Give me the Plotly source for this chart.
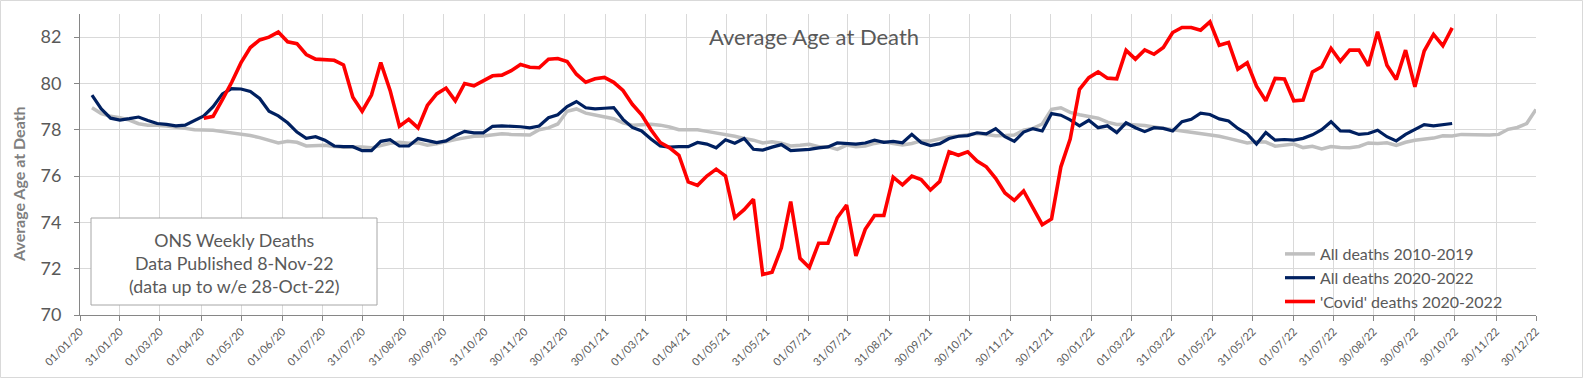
import pandas as pd
import plotly.graph_objects as go

# ---------------- data (weekly, week ending Friday) ----------------
gray_start = "2020-01-10"   # All deaths 2010-2019 average (repeated per year)
gray_vals = [
    # 2020
    78.95, 78.70, 78.58, 78.52, 78.42, 78.26, 78.20, 78.20, 78.16, 78.12, 78.06, 78.00, 78.00,
    77.98, 77.92, 77.87, 77.80, 77.75, 77.66, 77.55, 77.43, 77.50, 77.46, 77.30, 77.30, 77.33,
    77.28, 77.25, 77.26, 77.26, 77.22, 77.32, 77.42, 77.46, 77.42, 77.44, 77.33, 77.40, 77.50,
    77.58, 77.65, 77.72, 77.73, 77.77, 77.83, 77.80, 77.77, 77.77, 78.00, 78.08, 78.25, 78.80,
    # 2021
    78.90, 78.72, 78.64, 78.57, 78.48, 78.30, 78.20, 78.22, 78.24, 78.20, 78.12, 78.00, 78.00,
    78.00, 77.93, 77.86, 77.80, 77.72, 77.62, 77.55, 77.43, 77.48, 77.42, 77.30, 77.33, 77.37,
    77.27, 77.27, 77.15, 77.34, 77.27, 77.30, 77.41, 77.48, 77.41, 77.34, 77.41, 77.52, 77.52,
    77.60, 77.70, 77.73, 77.77, 77.84, 77.80, 77.74, 77.75, 77.77, 77.98, 78.06, 78.25, 78.88,
    # 2022
    78.95, 78.75, 78.65, 78.57, 78.50, 78.33, 78.23, 78.24, 78.22, 78.18, 78.12, 78.06, 78.00,
    77.97, 77.89, 77.83, 77.78, 77.72, 77.63, 77.53, 77.43, 77.48, 77.47, 77.29, 77.34, 77.38,
    77.23, 77.29, 77.17, 77.28, 77.23, 77.22, 77.28, 77.43, 77.41, 77.44, 77.32, 77.46, 77.55,
    77.58, 77.64, 77.74, 77.73, 77.80, 77.78, 77.77, 77.77, 77.80, 78.02, 78.10, 78.27, 78.88,
]

navy_start = "2020-01-10"   # All deaths 2020-2022
navy_vals = [
    79.50, 78.90, 78.50, 78.42, 78.48, 78.55, 78.40, 78.27, 78.23, 78.17, 78.20, 78.40,
    78.60, 79.00, 79.55, 79.78, 79.76, 79.65, 79.35, 78.80, 78.60, 78.30, 77.90, 77.63, 77.70,
    77.55, 77.30, 77.27, 77.27, 77.10, 77.10, 77.50, 77.57, 77.30, 77.30, 77.62, 77.52, 77.45,
    77.52, 77.75, 77.93, 77.87, 77.87, 78.15, 78.17, 78.16, 78.13, 78.08, 78.16, 78.52, 78.65, 79.00,
    79.22, 78.95, 78.90, 78.93, 78.96, 78.45, 78.10, 77.95, 77.60, 77.30, 77.25, 77.27, 77.27,
    77.45, 77.38, 77.22, 77.57, 77.42, 77.62, 77.16, 77.12, 77.25, 77.36, 77.10, 77.12, 77.15,
    77.22, 77.26, 77.43, 77.41, 77.38, 77.43, 77.55, 77.46, 77.50, 77.44, 77.80, 77.45, 77.32,
    77.40, 77.62, 77.72, 77.75, 77.87, 77.82, 78.05, 77.70, 77.50, 77.90, 78.05, 77.95, 78.70,
    78.63, 78.43, 78.17, 78.41, 78.09, 78.17, 77.88, 78.30, 78.09, 77.92, 78.09, 78.06, 77.95,
    78.35, 78.45, 78.72, 78.66, 78.47, 78.38, 78.06, 77.82, 77.38, 77.88, 77.55, 77.58, 77.55,
    77.63, 77.78, 78.00, 78.35, 77.95, 77.94, 77.80, 77.84, 77.98, 77.70, 77.52, 77.80, 78.00,
    78.22, 78.17, 78.23, 78.27,
]

red_start = "2020-04-03"    # 'Covid' deaths 2020-2022
red_vals = [
    78.50, 78.58, 79.30, 80.05, 80.90, 81.55, 81.88, 82.00, 82.22, 81.80, 81.72, 81.25, 81.05,
    81.02, 81.00, 80.80, 79.40, 78.80, 79.50, 80.90, 79.70, 78.15, 78.45, 78.08, 79.05, 79.55,
    79.80, 79.25, 80.00, 79.90, 80.12, 80.33, 80.36, 80.55, 80.82, 80.70, 80.68, 81.05, 81.08, 80.95,
    80.40, 80.05, 80.20, 80.26, 80.05, 79.70, 79.10, 78.65, 78.00, 77.45, 77.22, 76.90, 75.75,
    75.60, 76.00, 76.30, 76.00, 74.20, 74.55, 75.00, 71.75, 71.85, 72.90, 74.90, 72.45, 72.05,
    73.10, 73.10, 74.20, 74.75, 72.55, 73.70, 74.30, 74.30, 75.95, 75.62, 76.00, 75.85, 75.40,
    75.77, 77.05, 76.90, 77.05, 76.65, 76.40, 75.90, 75.27, 74.95, 75.36, 74.63, 73.90, 74.15,
    76.40, 77.60, 79.75, 80.25, 80.50, 80.23, 80.20, 81.43, 81.05, 81.45, 81.26, 81.55, 82.20,
    82.42, 82.42, 82.30, 82.66, 81.65, 81.77, 80.62, 80.89, 79.88, 79.25, 80.22, 80.19, 79.25,
    79.28, 80.50, 80.72, 81.51, 80.96, 81.44, 81.44, 80.76, 82.23, 80.79, 80.17, 81.44, 79.86,
    81.40, 82.12, 81.63, 82.40,
]

series_names = ["All deaths 2010-2019", "All deaths 2020-2022", "'Covid' deaths 2020-2022"]

tick_labels = [
    "01/01/20", "31/01/20", "01/03/20", "01/04/20", "01/05/20", "01/06/20", "01/07/20",
    "31/07/20", "31/08/20", "30/09/20", "31/10/20", "30/11/20", "30/12/20", "30/01/21",
    "01/03/21", "01/04/21", "01/05/21", "31/05/21", "01/07/21", "31/07/21", "31/08/21",
    "30/09/21", "30/10/21", "30/11/21", "30/12/21", "30/01/22", "01/03/22", "31/03/22",
    "01/05/22", "31/05/22", "01/07/22", "31/07/22", "30/08/22", "30/09/22", "30/10/22",
    "30/11/22", "30/12/22",
]
y_ticks = [70, 72, 74, 76, 78, 80, 82]

title_text = "Average Age at Death"
y_title = "Average Age at Death"
note_lines = ["ONS Weekly Deaths", "Data Published 8-Nov-22", "(data up to w/e 28-Oct-22)"]

# ---------------- figure ----------------
W, H = 1583, 378
ML, MR, MT, MB = 80, 47, 14, 63
PW, PH = W - ML - MR, H - MT - MB
FONT = "Lato"
TXT = "#595959"

def weekly(start, vals):
    return pd.date_range(start, periods=len(vals), freq="7D")

def px_x(x):
    return (x - ML) / PW

def px_y(y):
    return (H - MB - y) / PH

tick_dates = pd.to_datetime(tick_labels, format="%d/%m/%y")

fig = go.Figure()
fig.add_trace(go.Scatter(x=weekly(gray_start, gray_vals), y=gray_vals, mode="lines",
                         name=series_names[0], legendgroup="a",
                         line=dict(color="#bfbfbf", width=3.5)))
fig.add_trace(go.Scatter(x=weekly(navy_start, navy_vals), y=navy_vals, mode="lines",
                         name=series_names[1], legendgroup="b",
                         line=dict(color="#002060", width=3.2)))
fig.add_trace(go.Scatter(x=weekly(red_start, red_vals), y=red_vals, mode="lines",
                         name=series_names[2], legendgroup="c",
                         line=dict(color="#ff0000", width=3.6)))

fig.update_layout(
    width=W, height=H,
    margin=dict(l=ML, r=MR, t=MT, b=MB, autoexpand=False),
    paper_bgcolor="white", plot_bgcolor="white",
    font=dict(family=FONT, color=TXT),
    showlegend=True,
    legend=dict(x=px_x(1280), y=px_y(237), xanchor="left", yanchor="top",
                bgcolor="rgba(0,0,0,0)", font=dict(size=16, color=TXT, family=FONT),
                tracegroupgap=0, itemwidth=30),
)
fig.update_xaxes(
    range=["2020-01-01", "2022-12-30"], automargin=False,
    tickmode="array", tickvals=tick_dates, ticktext=tick_labels,
    tickangle=-45, tickfont=dict(size=11, color=TXT, family=FONT),
    showgrid=True, gridcolor="#d9d9d9", gridwidth=1,
    showline=True, linecolor="#868686", linewidth=1,
    ticks="outside", ticklen=5, tickcolor="#868686",
    zeroline=False,
)
fig.update_yaxes(
    range=[70, 83], automargin=False,
    tickmode="array", tickvals=y_ticks, ticktext=[str(v) for v in y_ticks],
    tickfont=dict(size=18, color=TXT, family=FONT), ticklabelstandoff=9,
    showgrid=True, gridcolor="#d9d9d9", gridwidth=1,
    showline=True, linecolor="#868686", linewidth=1,
    ticks="outside", ticklen=5, tickcolor="#868686",
    zeroline=False,
)

# y-axis title
fig.add_annotation(text="<b>" + y_title + "</b>", xref="paper", yref="paper",
                   x=px_x(19), y=px_y(184), xanchor="center", yanchor="middle",
                   textangle=-90, showarrow=False,
                   font=dict(size=16, color="#7f7f7f", family=FONT))

# chart title inside plot area
fig.add_annotation(text=title_text, xref="paper", yref="paper",
                   x=px_x(814), y=px_y(37), xanchor="center", yanchor="middle",
                   showarrow=False, font=dict(size=22, color=TXT, family=FONT))

# note box
bx0, bx1, by0, by1 = 91, 377, 218, 305
fig.add_shape(type="rect", xref="paper", yref="paper",
              x0=px_x(bx0), x1=px_x(bx1), y0=px_y(by1), y1=px_y(by0),
              line=dict(color="#a6a6a6", width=1), fillcolor="white", layer="above")
fig.add_annotation(text="<br>".join(note_lines), xref="paper", yref="paper",
                   x=px_x((bx0 + bx1) / 2), y=px_y((by0 + by1) / 2 + 1),
                   xanchor="center", yanchor="middle", showarrow=False, align="center",
                   font=dict(size=17.8, color=TXT, family=FONT))

# outer chart border
fig.add_shape(type="rect", xref="paper", yref="paper",
              x0=px_x(0.5), x1=px_x(W - 0.5), y0=px_y(H - 0.5), y1=px_y(0.5),
              line=dict(color="#d9d9d9", width=1), fillcolor="rgba(0,0,0,0)")

fig.write_html("out.html", config={"displayModeBar": False},
               post_script="document.body.style.margin='0';document.body.style.overflow='hidden';")
